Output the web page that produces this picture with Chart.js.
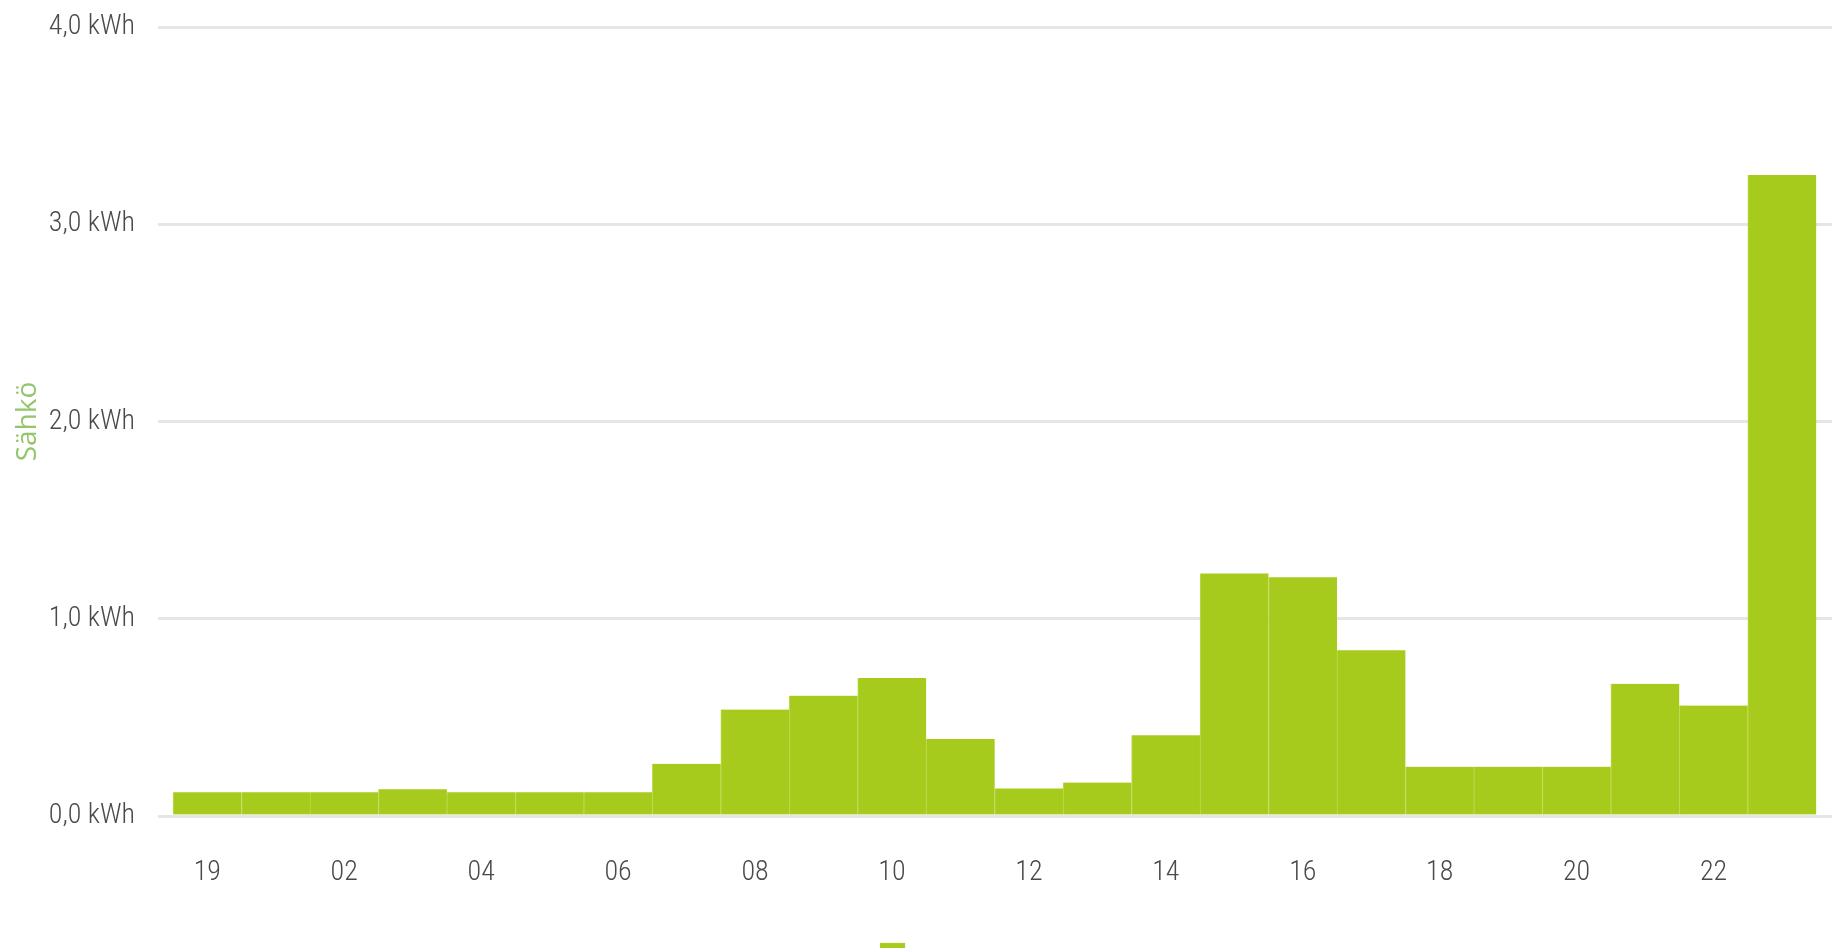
<!DOCTYPE html>
<html>
<head>
<meta charset="utf-8">
<script src="https://cdn.jsdelivr.net/npm/chart.js@4/dist/chart.umd.min.js"></script>
<style>
  html, body { margin: 0; padding: 0; background: #fff; overflow: hidden; }
  .chart-wrap { position: relative; width: 1832px; height: 979px; }
</style>
</head>
<body>
<div class="chart-wrap">
  <canvas id="usage-chart"></canvas>
</div>
<script>
// hourly consumption, first bar is midnight (shown as the day number)
const hours = ['19', '01', '02', '03', '04', '05', '06', '07', '08', '09', '10', '11',
               '12', '13', '14', '15', '16', '17', '18', '19', '20', '21', '22', '23'];
const kwh = [0.12, 0.12, 0.12, 0.135, 0.12, 0.12, 0.12, 0.265, 0.54, 0.61, 0.70, 0.39,
             0.14, 0.17, 0.41, 1.23, 1.21, 0.84, 0.25, 0.25, 0.25, 0.67, 0.56, 3.25];
const labelledHours = [0, 2, 4, 6, 8, 10, 12, 14, 16, 18, 20, 22];
const yTicks = [0, 1, 2, 3, 4];

const narrowFont = "'Roboto Condensed', 'DejaVu Sans Condensed', sans-serif";
const green = '#a7cb1c';

const points = kwh.map((v, i) => ({ x: i, y: v }));

const formatKwh = (v) => v.toFixed(1).replace('.', ',') + ' kWh';

const ctx = document.getElementById('usage-chart').getContext('2d');
new Chart(ctx, {
  type: 'bar',
  data: {
    datasets: [{
      label: 'Sähkö',
      data: points,
      backgroundColor: green,
      borderColor: '#bcdc4f',
      borderWidth: { left: 1, right: 0, top: 0, bottom: 0 },
      borderSkipped: false,
      barPercentage: 1,
      categoryPercentage: 1
    }]
  },
  options: {
    responsive: true,
    maintainAspectRatio: false,
    animation: false,
    layout: { padding: { top: 27, right: 0, bottom: 0, left: 0 } },
    plugins: {
      tooltip: { enabled: false },
      legend: {
        position: 'bottom',
        labels: {
          boxWidth: 25,
          boxHeight: 26,
          padding: 10,
          color: '#666',
          font: { family: narrowFont, size: 16 }
        }
      }
    },
    scales: {
      x: {
        type: 'linear',
        min: -0.72,
        max: 23.73,
        offset: false,
        grid: { display: false },
        border: { display: false },
        afterBuildTicks: (axis) => {
          axis.ticks = labelledHours.map(v => ({ value: v }));
        },
        afterFit: (axis) => { axis.height = 117; },
        ticks: {
          autoSkip: false,
          maxRotation: 0,
          padding: 32,
          color: '#4a4a4a',
          font: { family: narrowFont, size: 28, weight: 300 },
          callback: (v) => hours[v]
        }
      },
      y: {
        min: 0,
        max: 4,
        afterBuildTicks: (axis) => {
          axis.ticks = yTicks.map(v => ({ value: v }));
        },
        afterFit: (axis) => {
          axis.width = 158;
          // labels sit beside the grid lines, no extra room needed above
          axis.paddingTop = 0;
          axis.paddingBottom = 0;
        },
        grid: { color: '#e6e6e6', lineWidth: 3, drawTicks: false },
        border: { display: false },
        ticks: {
          padding: 23,
          color: '#4a4a4a',
          font: { family: narrowFont, size: 28, weight: 300 },
          callback: (v) => formatKwh(v)
        },
        title: {
          display: true,
          text: 'Sähkö',
          color: '#93c56d',
          padding: { top: 11, bottom: 0 },
          font: { family: "'Open Sans', sans-serif", size: 28 }
        }
      }
    }
  }
});
</script>
</body>
</html>
